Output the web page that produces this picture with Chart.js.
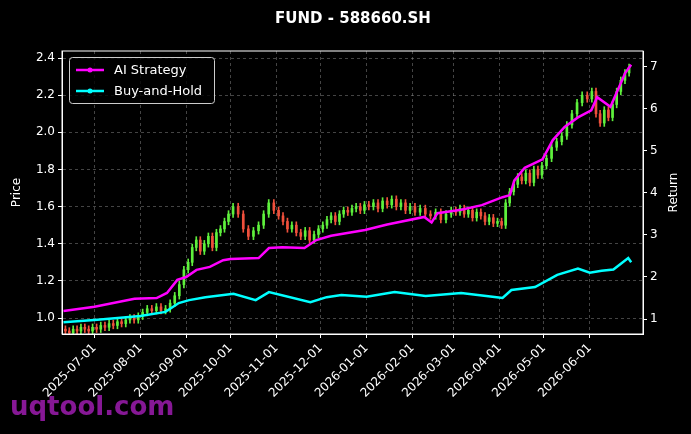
<!DOCTYPE html>
<html><head><meta charset="utf-8">
<script src="https://cdn.jsdelivr.net/npm/chart.js@4/dist/chart.umd.min.js"></script>
<style>
html,body{margin:0;padding:0;background:#000;}
#wrap{position:relative;width:691px;height:434px;}
#title{position:absolute;top:9px;left:0;width:706px;text-align:center;color:#fff;font:bold 15px "DejaVu Sans";}
#wm{position:absolute;left:10px;top:391px;color:#8e1a9e;font:bold 26px "DejaVu Sans";opacity:0.95;}
</style></head><body>
<div id="wrap"><canvas id="c" width="691" height="434"></canvas>
<div id="title">FUND - 588660.SH</div><div id="wm">uqtool.com</div></div>
<script>
const months = ['2025-06','2025-07','2025-08','2025-09','2025-10','2025-11','2025-12','2026-01','2026-02','2026-03','2026-04','2026-05','2026-06'];
const candlesPerMonth = [8,11,10,11,9,10,11,10,8,11,11,9,10];
const closes = [
0.93,0.92,0.94,0.93,0.95,0.94,0.93,0.95,
0.94,0.96,0.95,0.97,0.96,0.98,0.97,0.99,1.00,0.99,1.01,
1.03,1.05,1.04,1.06,1.04,1.05,1.08,1.12,1.18,1.26,
1.30,1.38,1.42,1.36,1.40,1.44,1.38,1.46,1.48,1.52,1.56,
1.60,1.56,1.48,1.44,1.47,1.50,1.56,1.62,1.58,
1.55,1.52,1.48,1.50,1.46,1.44,1.47,1.42,1.45,1.48,
1.50,1.53,1.55,1.52,1.56,1.58,1.57,1.59,1.60,1.58,1.61,
1.60,1.62,1.59,1.63,1.61,1.64,1.60,1.62,1.58,1.60,
1.57,1.59,1.56,1.55,1.57,1.53,1.56,1.58,
1.57,1.59,1.56,1.58,1.54,1.57,1.55,1.52,1.54,1.51,1.52,
1.50,1.62,1.68,1.72,1.76,1.74,1.78,1.73,1.80,1.77,1.82,
1.86,1.92,1.95,1.98,2.04,2.10,2.16,2.20,2.18,
2.22,2.10,2.05,2.12,2.08,2.15,2.22,2.28,2.32,2.35];
const firstOpen = 0.94;
const wick = 0.018;
const aiDates = ['2025-06-10','2025-07-01','2025-07-28','2025-08-12','2025-08-19','2025-08-26','2025-09-01','2025-09-08','2025-09-17','2025-09-26','2025-10-01','2025-10-20','2025-10-27','2025-11-05','2025-11-20','2025-11-28','2025-12-08','2025-12-31','2026-01-15','2026-02-09','2026-02-14','2026-02-18','2026-03-06','2026-03-20','2026-04-03','2026-04-08','2026-04-11','2026-04-18','2026-04-30','2026-05-07','2026-05-15','2026-05-24','2026-06-02','2026-06-06','2026-06-15','2026-06-25','2026-06-29'];
const aiValues = [1.19,1.29,1.48,1.50,1.62,1.93,2.00,2.17,2.24,2.40,2.43,2.45,2.69,2.71,2.69,2.88,2.98,3.12,3.25,3.43,3.30,3.52,3.60,3.71,3.90,3.95,4.30,4.60,4.80,5.26,5.57,5.80,5.97,6.28,6.05,6.86,7.05];
const bhDates = ['2025-06-10','2025-07-03','2025-08-01','2025-08-18','2025-08-27','2025-09-03','2025-09-14','2025-10-03','2025-10-18','2025-10-27','2025-11-24','2025-12-05','2025-12-15','2026-01-01','2026-01-20','2026-02-10','2026-03-06','2026-03-30','2026-04-03','2026-04-09','2026-04-25','2026-05-10','2026-05-24','2026-06-01','2026-06-09','2026-06-17','2026-06-27','2026-06-29'];
const bhValues = [0.92,0.98,1.07,1.17,1.38,1.45,1.52,1.60,1.45,1.64,1.40,1.52,1.57,1.53,1.64,1.55,1.62,1.52,1.50,1.69,1.76,2.05,2.20,2.10,2.15,2.18,2.45,2.35];
const xTickLabels = ['2025-07-01','2025-08-01','2025-09-01','2025-10-01','2025-11-01','2025-12-01','2026-01-01','2026-02-01','2026-03-01','2026-04-01','2026-05-01','2026-06-01'];
const priceTicks = [1.0,1.2,1.4,1.6,1.8,2.0,2.2,2.4];
const returnTicks = [1,2,3,4,5,6,7];

const t = s => Date.parse(s+'T00:00:00Z');
const cDates = [];
months.forEach((m,i)=>{
  const [y,mo] = m.split('-').map(Number);
  const start = i===0 ? Date.UTC(y,mo-1,10) : Date.UTC(y,mo-1,1);
  const end = i===months.length-1 ? Date.UTC(y,mo-1,29) : Date.UTC(y,mo,1);
  const n = candlesPerMonth[i];
  for(let k=0;k<n;k++) cDates.push(start + (end-start)*(k+0.5)/n);
});
const bodies=[], wicks=[], cols=[];
closes.forEach((c,i)=>{
  const o = i===0 ? firstOpen : closes[i-1];
  const lo=Math.min(o,c), hi=Math.max(o,c);
  bodies.push({x:cDates[i], y:[lo, hi===lo?hi+0.004:hi]});
  wicks.push({x:cDates[i], y:[lo-wick, hi+wick]});
  cols.push(c>=o ? '#5ef03c' : '#f0503c');
});
const font={family:'DejaVu Sans',size:12};
const legendPlugin={id:'lg',afterDraw(ch){
  const g=ch.ctx, a=ch.chartArea;
  const x=a.left+7, y=a.top+6, w=145, h=46;
  g.save();
  g.fillStyle='rgba(0,0,0,0.8)'; g.strokeStyle='#ccc'; g.lineWidth=1;
  g.beginPath(); g.roundRect(x+0.5,y+0.5,w,h,3); g.fill(); g.stroke();
  [['AI Strategy','#ff00ff'],['Buy-and-Hold','#00ffff']].forEach((it,i)=>{
    const yy=y+13+i*21;
    g.strokeStyle=it[1]; g.lineWidth=2.5; g.beginPath(); g.moveTo(x+7,yy); g.lineTo(x+35,yy); g.stroke();
    g.fillStyle=it[1]; g.beginPath(); g.arc(x+21,yy,2.5,0,7); g.fill();
    g.fillStyle='#fff'; g.font='13px "DejaVu Sans"'; g.textBaseline='middle'; g.fillText(it[0],x+45,yy+1);
  });
  // axis titles
  g.font='12px "DejaVu Sans"'; g.fillStyle='#fff'; g.textAlign='center'; g.textBaseline='middle';
  const cy=(a.top+a.bottom)/2;
  [[17,'Price'],[674,'Return']].forEach(p=>{g.save(); g.translate(p[0],cy); g.rotate(-Math.PI/2); g.fillText(p[1],0,0); g.restore();});
  g.restore();
}};
const borderPlugin={id:'bd',afterDatasetsDraw(ch){
  const g=ch.ctx,a=ch.chartArea; g.save(); g.strokeStyle='#fff'; g.lineWidth=1;
  g.strokeRect(a.left,a.top,a.right-a.left,a.bottom-a.top); g.restore();
}};
new Chart(document.getElementById('c'),{
  data:{datasets:[
    {type:'line',label:'AI Strategy',data:aiDates.map((d,i)=>({x:t(d),y:aiValues[i]})),yAxisID:'y1',borderColor:'#ff00ff',borderWidth:2.5,pointRadius:0,tension:0,order:0},
    {type:'line',label:'Buy-and-Hold',data:bhDates.map((d,i)=>({x:t(d),y:bhValues[i]})),yAxisID:'y1',borderColor:'#00ffff',borderWidth:2.5,pointRadius:0,tension:0,order:1},
    {type:'bar',data:wicks,yAxisID:'y',backgroundColor:cols,barThickness:1,grouped:false,order:3},
    {type:'bar',data:bodies,yAxisID:'y',backgroundColor:cols,barThickness:2,grouped:false,order:2}
  ]},
  options:{responsive:false,animation:false,
    layout:{padding:{top:51,left:0,right:0,bottom:0}},
    plugins:{legend:{display:false},tooltip:{enabled:false}},
    scales:{
      x:{type:'linear',offset:false,min:t('2025-06-09'),max:t('2026-07-07'),
        afterBuildTicks(s){s.ticks=xTickLabels.map(d=>({value:t(d)}));},
        afterFit(s){s.height=100;},
        ticks:{color:'#fff',font,maxRotation:45,minRotation:45,autoSkip:false,
          callback(v){return new Date(v).toISOString().slice(0,10);}},
        grid:{offset:false,color:'rgba(150,150,150,0.45)',tickColor:'#fff',tickLength:4,drawTicks:true},
        border:{color:'#fff',dash:[3,3]}
      },
      y:{position:'left',min:0.914,max:2.438,
        afterBuildTicks(s){s.ticks=priceTicks.map(v=>({value:v}));},
        afterFit(s){s.width=62;},
        ticks:{color:'#fff',font,callback:v=>v.toFixed(1)},
        grid:{color:'rgba(150,150,150,0.45)',tickColor:'#fff',tickLength:4},
        border:{color:'#fff',dash:[3,3]}
      },
      y1:{position:'right',min:0.643,max:7.38,
        afterBuildTicks(s){s.ticks=returnTicks.map(v=>({value:v}));},
        afterFit(s){s.width=48;},
        ticks:{color:'#fff',font},
        grid:{drawOnChartArea:false,tickColor:'#fff',tickLength:4},
        border:{color:'#fff'}
      }
    }
  },
  plugins:[legendPlugin,borderPlugin]
});
</script></body></html>
